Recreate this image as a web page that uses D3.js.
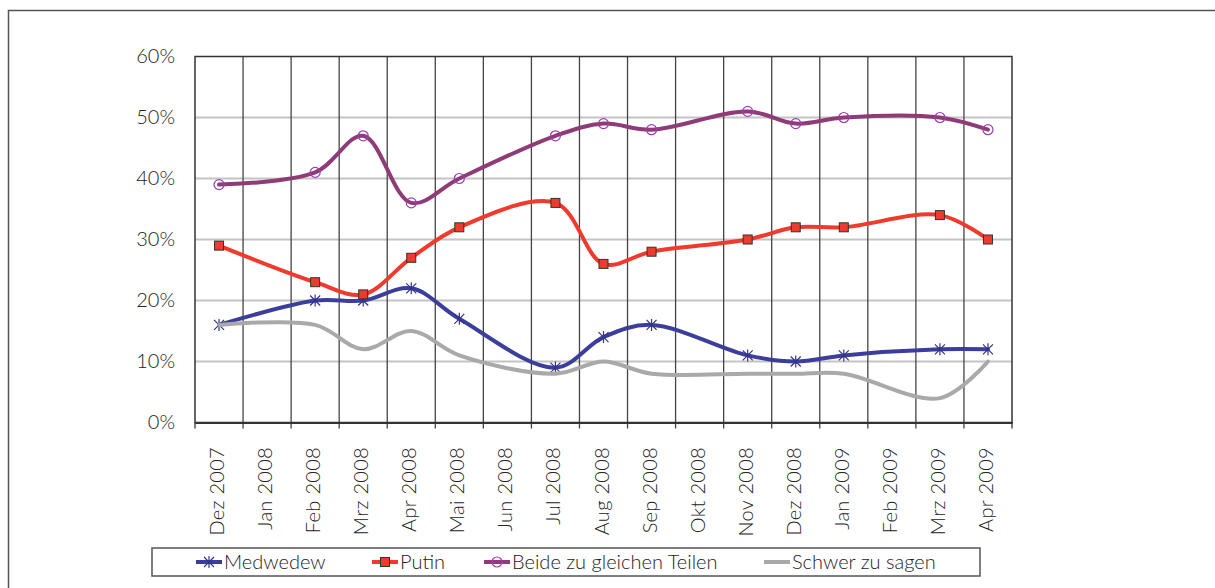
<!DOCTYPE html>
<html>
<head>
<meta charset="utf-8">
<script src="https://cdn.jsdelivr.net/npm/d3@7"></script>
<style>
  html, body { margin: 0; padding: 0; background: #fff; }
  svg { display: block; font-family: Lato, "DejaVu Sans", sans-serif; font-weight: 300; }
</style>
</head>
<body>
<div id="chart"></div>
<script>
// Monatsachse und Umfragewerte (in %), null = kein Messwert
var months = ["Dez 2007", "Jan 2008", "Feb 2008", "Mrz 2008", "Apr 2008", "Mai 2008", "Jun 2008", "Jul 2008",
    "Aug 2008", "Sep 2008", "Okt 2008", "Nov 2008", "Dez 2008", "Jan 2009", "Feb 2009", "Mrz 2009", "Apr 2009"];
var medwedew = [16, null, 20, 20, 22, 17, null, 9, 14, 16, null, 11, 10, 11, null, 12, 12];
var putin = [29, null, 23, 21, 27, 32, null, 36, 26, 28, null, 30, 32, 32, null, 34, 30];
var beide = [39, null, 41, 47, 36, 40, null, 47, 49, 48, null, 51, 49, 50, null, 50, 48];
var schwer = [16, null, 16, 12, 15, 11, null, 8, 10, 8, null, 8, 8, 8, null, 4, 10];
var yTicks = [0, 10, 20, 30, 40, 50, 60];

var series = [
    { name: "Medwedew", values: medwedew, color: "#3b3f9b", marker: "star" },
    { name: "Putin", values: putin, color: "#ef3a2d", marker: "square" },
    { name: "Beide zu gleichen Teilen", values: beide, color: "#8e3b77", marker: "circle" },
    { name: "Schwer zu sagen", values: schwer, color: "#a9a9a9", marker: null }
];

var width = 1215, height = 588;
var plotLeft = 195, plotRight = 1012, plotTop = 56.5, plotBottom = 422.5;

var svg = d3.select("#chart")
    .append("svg")
    .attr("width", width)
    .attr("height", height);

// outer frame
svg.append("rect")
    .attr("x", 8.5).attr("y", 10.5)
    .attr("width", width).attr("height", height)
    .attr("fill", "none")
    .attr("stroke", "#555")
    .attr("stroke-width", 1.5);

var x = d3.scaleBand().domain(months).range([plotLeft, plotRight]).padding(0);
var y = d3.scaleLinear().domain([0, 60]).range([plotBottom, plotTop]);

// horizontal grid
svg.append("g")
    .selectAll("line")
    .data(yTicks.slice(1, -1))
    .enter()
    .append("line")
        .attr("x1", plotLeft).attr("x2", plotRight)
        .attr("y1", function (d) { return y(d); })
        .attr("y2", function (d) { return y(d); })
        .attr("stroke", "#c4c4c4")
        .attr("stroke-width", 2);

// vertical grid at band edges
svg.append("g")
    .selectAll("line")
    .data(months.slice(1))
    .enter()
    .append("line")
        .attr("x1", function (d) { return x(d); })
        .attr("x2", function (d) { return x(d); })
        .attr("y1", plotTop).attr("y2", plotBottom + 6)
        .attr("stroke", "#444")
        .attr("stroke-width", 1.3);

// plot frame
svg.append("rect")
    .attr("x", plotLeft).attr("y", plotTop)
    .attr("width", plotRight - plotLeft).attr("height", plotBottom - plotTop)
    .attr("fill", "none")
    .attr("stroke", "#333")
    .attr("stroke-width", 1.5);

// x axis: ticks at band edges, labels in band centres
var axisX = d3.axisBottom(x).tickSize(0).tickFormat("");
svg.append("g")
    .attr("transform", `translate(0,${plotBottom})`)
    .call(axisX)
    .call(function (g) { g.select(".domain").attr("stroke", "#333").attr("stroke-width", 2); });

[plotLeft, plotRight].forEach(function (px) {
    svg.append("line")
        .attr("x1", px).attr("x2", px)
        .attr("y1", plotBottom).attr("y2", plotBottom + 6)
        .attr("stroke", "#333").attr("stroke-width", 1.3);
});

svg.append("g")
    .selectAll("text")
    .data(months)
    .enter()
    .append("text")
        .attr("transform", function (d) { return `translate(${x(d) + x.bandwidth() / 2 - 2},447) rotate(-90)`; })
        .attr("text-anchor", "end")
        .attr("dy", "0.35em")
        .attr("font-size", "20px")
        .attr("letter-spacing", "0.3px")
        .attr("fill", "#222")
        .text(function (d) { return d; });

// y axis labels
var axisY = d3.axisLeft(y).tickValues(yTicks).tickSize(0).tickPadding(20)
    .tickFormat(function (d) { return d + "%"; });
svg.append("g")
    .attr("transform", `translate(${plotLeft},0)`)
    .call(axisY)
    .call(function (g) {
        g.select(".domain").remove();
        g.selectAll("text")
            .attr("font-family", "Lato, 'DejaVu Sans', sans-serif")
            .attr("font-weight", 300)
            .attr("font-size", "20px")
            .attr("fill", "#222");
    });

var cx = function (d) { return x(d.month) + x.bandwidth() / 2; };
var line = d3.line()
    .x(cx)
    .y(function (d) { return y(d.value); })
    .curve(d3.curveCatmullRom);

function drawMarker(g, type, color) {
    if (type === "star") {
        g.append("path")
            .attr("d", "M-5,-5L5,5M-5,5L5,-5M0,-6L0,6")
            .attr("stroke", "#333388")
            .attr("stroke-width", 1.2)
            .attr("fill", "none");
    } else if (type === "square") {
        g.append("rect")
            .attr("x", -4.5).attr("y", -4.5)
            .attr("width", 9).attr("height", 9)
            .attr("fill", color)
            .attr("stroke", "#333")
            .attr("stroke-width", 1);
    } else if (type === "circle") {
        g.append("circle")
            .attr("r", 5)
            .attr("fill", "none")
            .attr("stroke", "#9b3db0")
            .attr("stroke-width", 1.2);
    }
}

series.forEach(function (s) {
    var pts = months.map(function (m, i) { return { month: m, value: s.values[i] }; })
        .filter(function (d) { return d.value !== null; });

    svg.append("path")
        .datum(pts)
        .attr("d", line)
        .attr("fill", "none")
        .attr("stroke", s.color)
        .attr("stroke-width", 4)
        .attr("stroke-linejoin", "round")
        .attr("stroke-linecap", "round");

    if (s.marker) {
        svg.append("g")
            .selectAll("g")
            .data(pts)
            .enter()
            .append("g")
                .attr("transform", function (d) { return `translate(${cx(d)},${y(d.value)})`; })
                .each(function () { drawMarker(d3.select(this), s.marker, s.color); });
    }
});

// legend
var legend = svg.append("g");
legend.append("rect")
    .attr("x", 152).attr("y", 548)
    .attr("width", 828).attr("height", 28)
    .attr("fill", "#fff")
    .attr("stroke", "#555")
    .attr("stroke-width", 1.5);

var legendX = [196, 372, 484, 764];
series.forEach(function (s, i) {
    var g = legend.append("g").attr("transform", `translate(${legendX[i]},562)`);
    g.append("line")
        .attr("x1", 0).attr("x2", 26)
        .attr("stroke", s.color)
        .attr("stroke-width", 4);
    drawMarker(g.append("g").attr("transform", "translate(13,0)"), s.marker, s.color);
    g.append("text")
        .attr("x", 28)
        .attr("dy", "0.35em")
        .attr("font-size", "20px")
        .attr("fill", "#222")
        .text(s.name);
});
</script>
</body>
</html>
